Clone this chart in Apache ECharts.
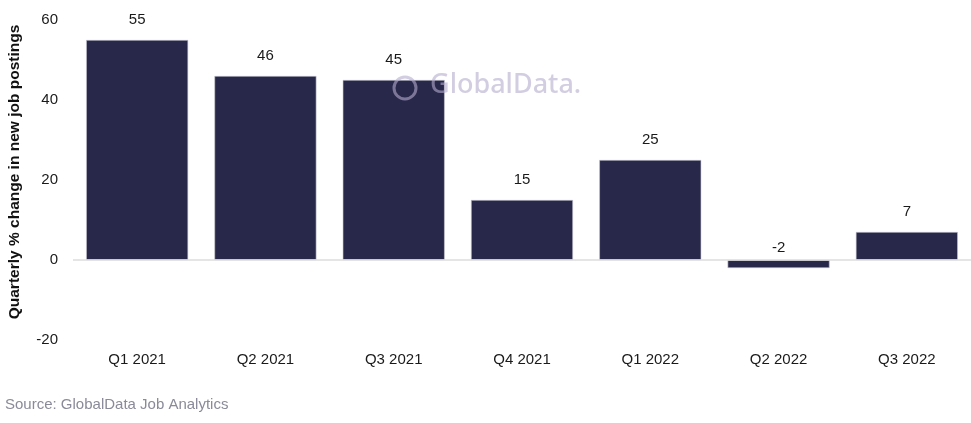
<!DOCTYPE html>
<html>
<head>
<meta charset="utf-8">
<script src="https://cdn.jsdelivr.net/npm/echarts@6/dist/echarts.min.js"></script>
<style>
html,body{margin:0;padding:0;background:#fff;}
#chart{width:971px;height:423px;}
</style>
</head>
<body>
<div id="chart"></div>
<script>
var categories = ['Q1 2021','Q2 2021','Q3 2021','Q4 2021','Q1 2022','Q2 2022','Q3 2022'];
var values = [55, 46, 45, 15, 25, -2, 7];
var yTicks = [-20, 0, 20, 40, 60];
var yAxisTitle = 'Quarterly % change in new job postings';
var sourceText = 'Source: GlobalData Job Analytics';

var FONT = '"Liberation Sans", Arial, sans-serif';
var chart = echarts.init(document.getElementById('chart'));
var seriesData = values.map(function (v) {
  return v < 0 ? { value: v, label: { distance: 5 } } : v;
});
chart.setOption({
  animation: false,
  grid: { left: 73, right: 0, top: 20, bottom: 83, containLabel: false, outerBoundsMode: 'none' },
  xAxis: {
    type: 'category',
    data: categories,
    axisLine: { show: false, onZero: false },
    axisTick: { show: false },
    axisLabel: { color: '#1a1a1a', fontSize: 15, fontFamily: FONT, margin: 12 }
  },
  yAxis: {
    type: 'value',
    min: yTicks[0],
    max: yTicks[yTicks.length - 1],
    interval: 20,
    name: yAxisTitle,
    nameLocation: 'middle',
    nameGap: 50,
    nameTextStyle: { color: '#111', fontSize: 15.5, fontWeight: 'bold', fontFamily: FONT, padding: [0, 0, 0, 16] },
    axisLine: { show: false },
    axisTick: { show: false },
    splitLine: { show: false },
    axisLabel: { color: '#1a1a1a', fontSize: 15, fontFamily: FONT, margin: 15 }
  },
  series: [{
    type: 'bar',
    data: seriesData,
    barCategoryGap: '20.5%',
    itemStyle: { color: '#28284b', borderColor: '#c8c8d2', borderWidth: 0.6 },
    label: { show: true, position: 'top', distance: 13, color: '#1a1a1a', fontSize: 15, fontFamily: FONT },
    markLine: {
      silent: true,
      symbol: 'none',
      label: { show: false },
      lineStyle: { color: '#dcdcdc', width: 1.5, type: 'solid' },
      data: [{ yAxis: 0 }]
    },
    z: 2
  }],
  graphic: [
    {
      type: 'circle', shape: { cx: 405, cy: 88, r: 11 }, z: 10,
      style: { fill: 'none', stroke: 'rgba(180,172,205,0.6)', lineWidth: 3 }
    },
    {
      type: 'text', left: 430, top: 72, z: 10,
      style: { text: 'GlobalData.', font: '500 27px "Noto Sans", sans-serif', fill: 'rgba(180,172,205,0.6)' }
    },
    {
      type: 'text', left: 5, top: 397,
      style: { text: sourceText, font: '15px ' + FONT, fill: '#8a8a9a' }
    }
  ]
});
</script>
</body>
</html>
